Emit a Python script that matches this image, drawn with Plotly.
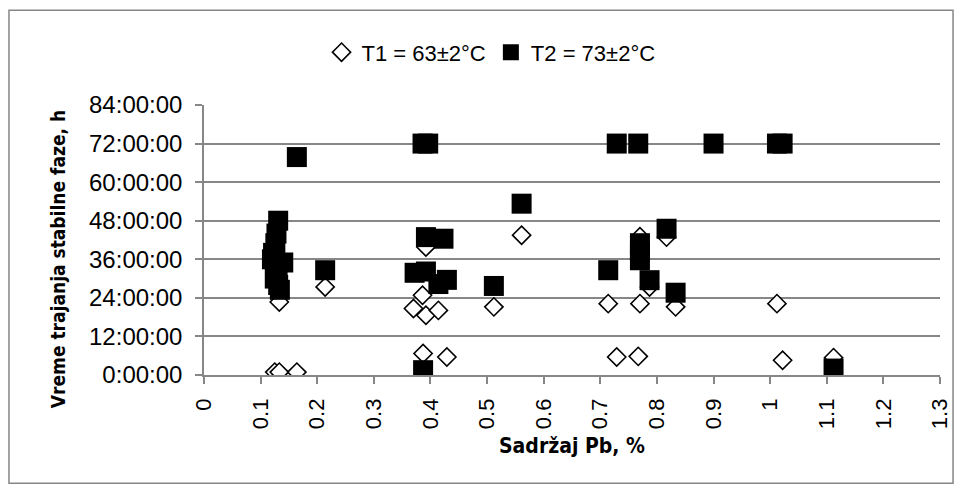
import plotly.graph_objects as go

# data (Pb content in %, duration in hours)
t1_pb = [0.125, 0.133, 0.164, 0.133, 0.214, 0.370, 0.386, 0.392, 0.414, 0.392,
         0.387, 0.429, 0.512, 0.561, 0.714, 0.770, 0.729, 0.767, 0.770, 0.787,
         0.817, 0.833, 1.012, 1.022, 1.112]
t1_hours = [0.9, 0.9, 0.9, 22.7, 27.4, 20.7, 24.8, 18.6, 20.1, 39.8,
            6.7, 5.6, 21.2, 43.5, 22.2, 22.2, 5.6, 5.8, 43.0, 27.4,
            42.9, 21.2, 22.2, 4.6, 5.4]

t2_pb = [0.131, 0.128, 0.126, 0.122, 0.120, 0.140, 0.130, 0.125, 0.131, 0.134,
         0.164, 0.214, 0.386, 0.396, 0.392, 0.423, 0.372, 0.392, 0.414, 0.429,
         0.387, 0.512, 0.561, 0.729, 0.767, 0.900, 0.714, 0.770, 0.770, 0.770,
         0.787, 0.817, 0.833, 1.012, 1.022, 1.112]
t2_hours = [48.0, 44.0, 41.0, 38.0, 36.0, 35.0, 33.0, 30.0, 28.0, 26.5,
            67.8, 32.6, 72.0, 72.0, 42.9, 42.4, 31.8, 32.2, 28.3, 29.6,
            1.5, 27.7, 53.3, 72.0, 72.0, 72.0, 32.6, 41.0, 38.5, 35.7,
            29.5, 45.5, 25.6, 72.0, 72.0, 2.0]

y_ticks = [0, 12, 24, 36, 48, 60, 72, 84]
y_labels = [f"{h}:00:00" for h in y_ticks]
x_ticks = [round(i * 0.1, 1) for i in range(14)]
x_labels = ["0", "0.1", "0.2", "0.3", "0.4", "0.5", "0.6", "0.7", "0.8", "0.9",
            "1", "1.1", "1.2", "1.3"]

FONT = "Liberation Sans, Arial, sans-serif"
TITLE_FONT = "DejaVu Sans Condensed, Roboto, sans-serif"
GRID = "#878787"

fig = go.Figure()

fig.add_trace(go.Scatter(
    x=t1_pb, y=t1_hours, mode="markers", name="T1 = 63±2°C",
    marker=dict(symbol="diamond", size=14, color="white",
                line=dict(color="black", width=1.6)),
))
fig.add_trace(go.Scatter(
    x=t2_pb, y=t2_hours, mode="markers", name="T2 = 73±2°C",
    marker=dict(symbol="square", size=20, color="black",
                line=dict(color="black", width=0)),
))

fig.update_layout(
    width=958, height=490,
    margin=dict(l=204, r=18, t=105, b=115, autoexpand=False),
    paper_bgcolor="white", plot_bgcolor="white",
    font=dict(family=FONT, color="black"),
    showlegend=True,
    legend=dict(orientation="h", x=0.39, y=1.195, xanchor="center", yanchor="middle",
                font=dict(size=22, family=FONT), itemwidth=30, tracegroupgap=0),
    annotations=[
        dict(text="<b>Sadržaj Pb, %</b>", xref="paper", yref="paper",
             x=0.5, y=-0.264, xanchor="center", yanchor="middle", showarrow=False,
             font=dict(size=21, family=TITLE_FONT)),
        dict(text="<b>Vreme trajanja stabilne faze, h</b>", xref="paper", yref="paper",
             x=-0.198, y=0.43, xanchor="center", yanchor="middle", showarrow=False,
             textangle=-90, font=dict(size=19, family=TITLE_FONT)),
    ],
    shapes=[
        dict(type="rect", xref="paper", yref="paper",
             x0=-0.265, x1=1.0177, y0=-0.401, y1=1.351,
             line=dict(color=GRID, width=1.5)),
    ],
)

fig.update_xaxes(
    range=[0, 1.3], tickvals=x_ticks, ticktext=x_labels, tickangle=-90,
    showgrid=False, zeroline=False, automargin=False,
    showline=True, linecolor=GRID, linewidth=1.5,
    ticks="outside", ticklen=7, tickcolor=GRID, tickwidth=1.5,
    ticklabelstandoff=6,
    tickfont=dict(size=22, family=FONT),
)
fig.update_yaxes(
    range=[0, 84], tickvals=y_ticks, ticktext=y_labels,
    showgrid=True, gridcolor=GRID, gridwidth=1.5, zeroline=False, automargin=False,
    showline=True, linecolor=GRID, linewidth=1.5,
    ticks="outside", ticklen=7, tickcolor=GRID, tickwidth=1.5,
    ticklabelstandoff=8,
    tickfont=dict(size=24, family=FONT),
)

# drop the default page margin so the figure sits at the window's corner
fig.write_html("out.html", config={"displayModeBar": False},
               post_script="document.body.style.margin='0';")
